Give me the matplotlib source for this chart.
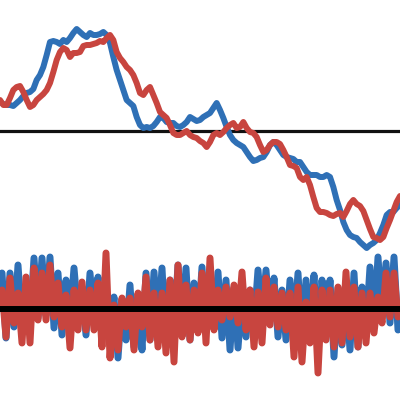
import numpy as np
import matplotlib
matplotlib.use('Agg')
import matplotlib.pyplot as plt

# Random walks (upper panel)
blue_walk = [2.9, 2.7, 2.6, 2.6, 2.5, 2.8, 3.1, 3.5, 3.8, 3.9, 4.2, 5.1, 5.6, 6.4, 7.6, 8.9,
             9.0, 8.9, 8.7, 9.1, 8.9, 9.3, 9.8, 10.2, 9.9, 9.6, 9.4, 9.8, 9.6, 9.6, 9.7,
             9.9, 9.6, 8.8, 7.4, 6.1, 5.1, 4.1, 3.1, 2.8, 2.5, 1.4, 0.6, 0.3, 0.4, 0.3,
             0.5, 0.9, 1.4, 1.3, 0.9, 0.8, 0.8, 0.5, 0.4, 0.6, 0.9, 1.4, 1.2, 1.0, 1.1,
             1.4, 1.6, 1.8, 2.3, 2.8, 2.1, 1.3, 0.4, -0.4, -0.9, -1.2, -1.4, -1.6, -2.1,
             -2.6, -3.0, -2.9, -2.7, -2.6, -2.1, -1.4, -1.1, -1.4, -1.9, -2.4, -2.6, -2.7,
             -2.8, -3.1, -3.1, -3.6, -4.1, -4.4, -4.4, -4.4, -4.6, -4.6, -4.4, -4.6, -5.6,
             -6.9, -7.9, -9.1, -9.9, -10.4, -10.6, -10.7, -11.1, -11.4, -11.7, -11.4,
             -11.2, -10.9, -10.2, -9.4, -8.4, -8.1, -8.1, -7.7, -7.4]
red_walk = [3.1, 2.6, 2.6, 3.3, 4.1, 4.4, 4.5, 3.9, 3.1, 2.4, 2.6, 3.1, 3.4, 3.7, 4.1, 4.8,
            5.9, 7.1, 7.9, 8.3, 8.1, 7.4, 7.8, 7.8, 7.9, 8.5, 8.6, 8.6, 8.7, 8.8, 9.0,
            8.9, 9.3, 9.6, 9.1, 7.9, 7.3, 6.9, 6.4, 6.1, 5.6, 4.8, 3.8, 3.6, 4.1, 4.4,
            3.6, 2.8, 1.9, 1.6, 1.3, 0.6, -0.2, -0.4, -0.4, -0.2, 0.0, -0.4, -0.6, -0.7,
            -1.0, -1.2, -1.6, -1.1, -0.4, -0.2, -0.4, -0.1, 0.3, 0.6, 0.8, 0.3, 0.4, 0.9,
            0.3, -0.1, -0.2, -0.6, -1.4, -2.1, -1.9, -1.4, -1.1, -1.1, -1.3, -1.9, -2.6,
            -3.4, -3.5, -3.7, -4.6, -4.9, -4.6, -5.4, -6.6, -7.7, -8.1, -8.1, -8.2, -8.4,
            -8.5, -8.3, -8.2, -8.6, -8.0, -7.3, -6.9, -7.3, -7.5, -8.0, -8.9, -9.8,
            -10.6, -10.7, -10.9, -10.6, -9.7, -8.9, -8.0, -7.1, -6.5]

# Increments (lower panel): local highs and lows, interleaved below
blue_hi = [3.6, 3.6, 4.4, 2.4, 5.1, 5.1, 5.2, 3.6, 2.9, 4.1, 2.2, 3.6, 3.2, 1.9, 1.2, 0.9,
           2.4, 1.4, 3.6, 3.7, 4.1, 2.9, 4.4, 4.1, 2.6, 4.2, 2.4, 3.7, 2.9, 2.1, 1.4, 1.9,
           3.9, 3.9, 3.1, 1.9, 2.9, 3.6, 2.9, 3.4, 2.9, 2.9, 2.1, 1.6, 3.6, 2.2, 4.2, 5.2,
           4.6, 5.2]
blue_lo = [-2.9, -1.8, -1.4, -1.3, -0.9, -0.6, -1.9, -2.6, -1.1, -0.6, -2.6, -1.1, -2.8,
           -2.1, -4.9, -3.1, -3.8, -4.1, -3.1, -2.1, -3.4, -2.1, -1.6, -3.1, -2.1, -2.3,
           -1.6, -2.9, -4.1, -3.9, -2.8, -1.6, -1.1, -1.1, -2.8, -3.1, -2.1, -3.4, -2.1,
           -4.1, -2.1, -4.8, -3.6, -4.1, -3.8, -2.1, -1.6, -0.9, -1.4, -2.1]
red_hi = [1.9, 3.1, 1.6, 3.2, 4.1, 3.6, 4.4, 2.6, 1.4, 1.9, 2.7, 1.9, 2.6, 5.6, 0.4, 1.1,
          1.1, 1.6, 3.2, 1.6, 1.6, 2.9, 4.4, 2.4, 1.9, 3.6, 5.1, 1.9, 2.2, 2.4, 3.7, 1.9,
          1.7, 3.1, 2.2, 1.6, 1.6, 2.2, 0.7, 2.2, 1.9, 1.9, 2.2, 3.7, 2.2, 1.6, 1.6, 1.2,
          3.6, 3.6]
red_lo = [-2.8, -1.4, -3.4, -3.4, -1.1, -1.1, -0.8, -1.8, -3.9, -2.1, -2.1, -2.1, -3.8,
          -4.9, -4.1, -1.8, -4.1, -1.8, -3.1, -3.8, -4.4, -5.3, -2.8, -3.1, -2.4, -3.4,
          -2.1, -1.1, -0.8, -1.4, -2.1, -3.8, -3.4, -1.6, -1.8, -2.1, -4.8, -5.3, -3.4,
          -6.4, -3.1, -3.8, -3.4, -2.8, -3.8, -3.4, -2.4, -1.4, -0.8, -0.8]

BLUE = '#2f70b6'
RED = '#c8453f'
offset = -17.8


def interleave(hi, lo):
    out = np.empty(2 * len(hi))
    out[0::2] = hi
    out[1::2] = lo
    return out


fig = plt.figure(figsize=(4, 4), dpi=100)
ax = fig.add_axes([0, 0, 1, 1])

x_walk = np.arange(len(blue_walk))
ax.axhline(0, color='#111111', lw=2.3, zorder=1)
ax.plot(x_walk, blue_walk, color=BLUE, lw=4.3, solid_capstyle='round', zorder=2)
ax.plot(x_walk, red_walk, color=RED, lw=4.3, solid_capstyle='round', zorder=3)

blue_noise = interleave(blue_hi, blue_lo)
red_noise = interleave(red_hi, red_lo)
x_noise = np.arange(len(blue_noise)) * 1.2 + 0.6
ax.plot(x_noise, blue_noise + offset, color=BLUE, lw=5,
        solid_joinstyle='round', solid_capstyle='round', zorder=2)
ax.plot(x_noise, red_noise + offset, color=RED, lw=5,
        solid_joinstyle='round', solid_capstyle='round', zorder=3)
ax.axhline(offset, color='black', lw=4.3, zorder=4)

ax.set_xlim(0, 120)
ax.set_ylim(-26.9, 13.1)
ax.axis('off')

plt.savefig('out.png', dpi=100)
